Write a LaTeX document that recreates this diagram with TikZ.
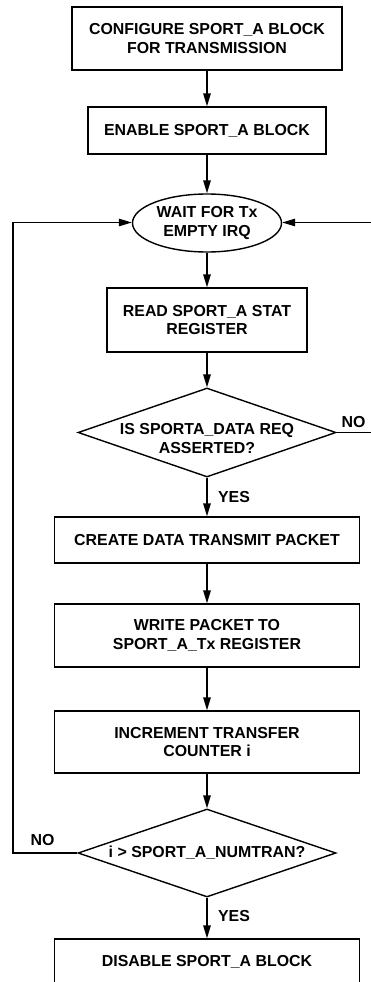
\documentclass[tikz,border=0pt]{standalone}
\usepackage{fontspec}
\setmainfont{Liberation Sans}
\usetikzlibrary{shapes.geometric,arrows.meta}

\begin{document}
\begin{tikzpicture}[x=1pt,y=-1pt,
  line width=1.4pt,
  font=\fontsize{15.9}{18.5}\selectfont\bfseries,
  stepbox/.style={draw, rectangle, inner sep=0pt, align=center},
  waitbox/.style={draw, ellipse, inner sep=0pt, align=center,
    minimum width=149pt, minimum height=58pt},
  testbox/.style={draw, diamond, inner sep=0pt, align=center,
    minimum width=258pt, minimum height=89pt},
  flow/.style={-{Triangle[length=13pt,width=7.5pt]}},
  tag/.style={inner sep=0pt}
]
\useasboundingbox (0,0) rectangle (371,982);
\clip (0,0) rectangle (371,982);

% process chain
\node[stepbox, minimum width=270pt, minimum height=63pt] (cfg) at (207,38.5)
  {CONFIGURE SPORT\_A BLOCK\\FOR TRANSMISSION};
\node[stepbox, minimum width=238pt, minimum height=47pt] (en) at (207,130.5)
  {ENABLE SPORT\_A BLOCK};
\node[waitbox] (wait) at (207,223) {WAIT FOR Tx\\EMPTY IRQ};
\node[stepbox, minimum width=200pt, minimum height=64pt] (stat) at (207,320)
  {READ SPORT\_A STAT\\REGISTER};
\node[testbox,
  label={[yshift=-6pt,align=center]center:{IS SPORTA\_DATA REQ\\ASSERTED?}}]
  (req) at (207,432.5) {};
\node[stepbox, minimum width=305pt, minimum height=46pt] (pkt) at (207,540)
  {CREATE DATA TRANSMIT PACKET};
\node[stepbox, minimum width=305pt, minimum height=63pt] (wr) at (207,635.5)
  {WRITE PACKET TO\\SPORT\_A\_Tx REGISTER};
\node[stepbox, minimum width=305pt, minimum height=62pt] (inc) at (207,742)
  {INCREMENT TRANSFER\\COUNTER i};
\node[testbox, minimum height=88pt,
  label={[align=center]center:{i > SPORT\_A\_NUMTRAN?}}]
  (cnt) at (207,853) {};
\node[stepbox, minimum width=305pt, minimum height=46pt] (dis) at (207,962)
  {DISABLE SPORT\_A BLOCK};

% loop-back corners
\coordinate (rt) at (372,432.5);
\coordinate (rtop) at (372,222.5);
\coordinate (lt) at (13,853);
\coordinate (ltop) at (13,222.5);

% straight-down flow
\draw[flow] (cfg) -- (en);
\draw[flow] (en) -- (wait);
\draw[flow] (wait) -- (stat);
\draw[flow] (stat) -- (req);
\draw[flow] (req) -- (pkt);
\draw[flow] (pkt) -- (wr);
\draw[flow] (wr) -- (inc);
\draw[flow] (inc) -- (cnt);
\draw[flow] (cnt) -- (dis);

% returns to the wait state
\draw[flow] (req.east) -- (rt) -- (rtop) -- (wait.east |- rtop);
\draw[flow] (cnt.west) -- (lt) -- (ltop) -- (wait.west |- ltop);

% branch labels
\node[tag] (no1) at (353.5,422) {NO};
\node[tag] (yes1) at (234,497) {YES};
\node[tag] (no2) at (42.5,840) {NO};
\node[tag] (yes2) at (234,916) {YES};
\end{tikzpicture}
\end{document}
